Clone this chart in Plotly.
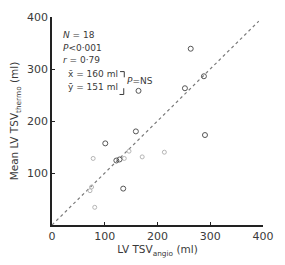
import plotly.graph_objects as go

# clearly drawn points (LV TSV angio, mean LV TSV thermo), ml
x_clear = [263, 288, 252, 290, 159, 101, 122, 128, 135, 164]
y_clear = [339, 286, 263, 173, 180, 157, 124, 126, 70, 258]
# faintly printed points
x_faint = [78, 137, 146, 171, 213, 75, 72, 81]
y_faint = [128, 128, 142, 131, 140, 73, 66, 34]

identity_x = [0, 392]
identity_y = [0, 392]

x_tick_vals = [0, 100, 200, 300, 400]
x_tick_text = ["0", "100", "200", "300", "400"]
y_tick_vals = [100, 200, 300, 400]
y_tick_text = ["100", "200", "300", "400"]

ink = "#3a3a3a"
font = "DejaVu Sans"

fig = go.Figure()
fig.add_trace(go.Scatter(x=identity_x, y=identity_y, mode="lines",
                         line=dict(color="#7a7a7a", width=1.2, dash="dot"),
                         hoverinfo="skip", showlegend=False))
fig.add_trace(go.Scatter(x=x_faint, y=y_faint, mode="markers",
                         marker=dict(symbol="circle-open", size=4, color="#b5b5b5",
                                     line=dict(width=1, color="#b5b5b5")),
                         showlegend=False))
fig.add_trace(go.Scatter(x=x_clear, y=y_clear, mode="markers",
                         marker=dict(symbol="circle-open", size=5, color="#555555",
                                     line=dict(width=1, color="#555555")),
                         showlegend=False))

ann_font = dict(family=font, size=9, color=ink)
notes = [
    (18, 366, "<i>N</i> = 18"),
    (18, 341, "<i>P</i><0·001"),
    (18, 317, "<i>r</i> = 0·79"),
    (26, 290, "x̄ = 160 ml"),
    (26, 265, "ȳ = 151 ml"),
    (138, 277, "<i>P</i>=NS"),
]
for xx, yy, tt in notes:
    fig.add_annotation(x=xx, y=yy, text=tt, showarrow=False, xanchor="left",
                       yanchor="middle", font=ann_font)

# bracket
fig.add_shape(type="path", path="M 129 295 L 137 295 L 137 284",
              line=dict(color=ink, width=1))
fig.add_shape(type="path", path="M 136 263 L 136 251 L 128 251",
              line=dict(color=ink, width=1))

fig.update_layout(
    width=285, height=265,
    margin=dict(l=52, r=11, t=14, b=29),
    paper_bgcolor="white", plot_bgcolor="white",
    font=dict(family=font, size=11, color=ink),
    xaxis=dict(range=[0, 400], tickvals=x_tick_vals, ticktext=x_tick_text,
               showgrid=False, zeroline=False, showline=True, linecolor="#222",
               linewidth=1.5, ticks="inside", ticklen=3, tickcolor="#222",
               tickfont=dict(size=11, color=ink),
               title=dict(text="LV TSV<sub>angio</sub> (ml)", standoff=4,
                          font=dict(size=10.5, color=ink))),
    yaxis=dict(range=[0, 400], tickvals=y_tick_vals, ticktext=y_tick_text,
               showgrid=False, zeroline=False, showline=True, linecolor="#222",
               linewidth=1.5, ticks="inside", ticklen=3, tickcolor="#222",
               tickfont=dict(size=11, color=ink),
               title=dict(text="Mean LV TSV<sub>thermo</sub> (ml)", standoff=6,
                          font=dict(size=10.5, color=ink))),
)

fig.write_html("out.html")
